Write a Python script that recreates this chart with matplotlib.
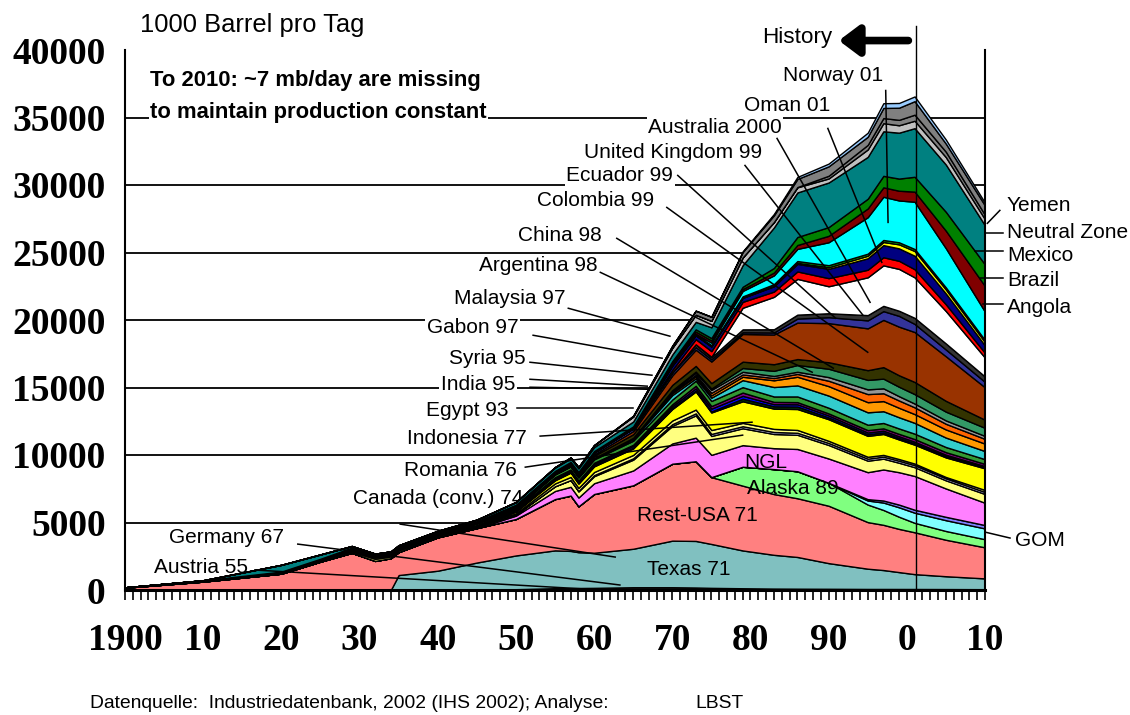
import matplotlib
matplotlib.use("Agg")
import matplotlib.pyplot as plt
import numpy as np

SANS = ['Liberation Sans', 'DejaVu Sans']
SERIF = ['Liberation Serif', 'DejaVu Serif']

# Stuetzjahre der Reihen (1000 Barrel pro Tag)
years = [1900, 1910, 1920, 1925, 1929, 1932, 1934, 1935, 1940, 1945, 1950, 1955, 1957, 1958,
         1960, 1965, 1970, 1973, 1975, 1979, 1983, 1986, 1990, 1995, 1997, 1999, 2001, 2005, 2010]

austria = [0, 0, 0, 0, 0, 0, 0, 0, 10, 20, 35, 70, 65, 60, 50, 55, 55, 50, 40, 35, 25, 22, 20, 18, 18, 16, 15, 15, 15]
germany = [2, 3, 2, 2, 2, 5, 7, 8, 20, 15, 25, 65, 80, 90, 110, 150, 150, 135, 120, 95, 80, 75, 70, 60, 60, 60, 60, 55, 45]
texas = [0, 0, 0, 0, 0, 0, 0, 1100, 1400, 2000, 2500, 2800, 2750, 2650, 2600, 2850, 3450, 3450, 3250, 2800, 2500, 2350, 1900, 1500, 1400, 1250, 1100, 950, 800]
rest_usa = [170, 620, 1210, 2100, 2750, 2150, 2350, 1700, 2470, 2550, 2700, 3800, 4100, 3400, 4350, 4700, 5700, 5900, 4950, 4800, 4500, 4350, 4250, 3450, 3350, 3200, 3100, 2700, 2300]
alaska = [0] * 19 + [1400, 1850, 2000, 1700, 1300, 1100, 900, 700, 650, 600]
gom = [0] * 23 + [300, 550, 700, 750, 800, 800]
usa_other = [0] * 23 + [100, 150, 200, 220, 250, 250]
ngl = [0] * 10 + [250, 600, 650, 650, 800, 1100, 1500, 1750, 1650, 1600, 1550, 1650, 1800, 2000, 2300, 2400, 2500, 2100, 1650]
canada = [2, 2, 1, 1, 3, 3, 4, 4, 20, 20, 80, 350, 500, 450, 520, 800, 1300, 1650, 1400, 1250, 1050, 1050, 1000, 850, 800, 700, 650, 600, 650]
canada_other = [0] * 13 + [30, 80, 100, 130, 150, 150, 150, 150, 150, 150, 150, 150, 150, 150, 150, 150]
romania = [5, 25, 20, 45, 90, 150, 120, 120, 80, 90, 90, 210, 230, 230, 230, 250, 270, 280, 290, 250, 230, 210, 160, 140, 130, 125, 120, 100, 150]
indonesia = [6, 30, 50, 60, 100, 110, 90, 90, 100, 20, 130, 230, 320, 320, 420, 480, 850, 1340, 1300, 1600, 1500, 1550, 1600, 1550, 1550, 1450, 1400, 1450, 1600]
peru = [1, 4, 7, 25, 35, 27, 45, 47, 20, 38, 40, 50, 50, 50, 55, 60, 75, 70, 75, 190, 170, 180, 130, 120, 120, 110, 100, 90, 80]
trinidad = [0, 0, 5, 10, 22, 27, 27, 27, 30, 55, 55, 65, 75, 80, 115, 135, 140, 165, 210, 215, 160, 170, 150, 130, 125, 125, 120, 110, 90]
brunei = [0, 0, 0, 0, 1, 5, 5, 5, 10, 5, 90, 115, 110, 100, 95, 80, 140, 190, 190, 240, 170, 160, 150, 175, 170, 180, 195, 190, 160]
small = [10, 20, 40, 40, 40, 30, 30, 30, 40, 120, 100, 200, 220, 220, 250, 300, 350, 380, 380, 400, 400, 420, 420, 400, 400, 400, 400, 380, 350]
egypt = [0, 0, 3, 3, 5, 5, 5, 4, 10, 27, 45, 35, 50, 60, 65, 125, 330, 170, 240, 520, 700, 820, 900, 920, 870, 830, 800, 700, 600]
india = [1, 5, 5, 5, 5, 5, 5, 5, 6, 5, 5, 7, 8, 8, 10, 60, 140, 150, 170, 250, 500, 640, 700, 750, 750, 700, 650, 600, 550]
syria = [0] * 16 + [85, 110, 190, 170, 165, 210, 400, 600, 580, 540, 500, 420, 350]
gabon = [0] * 13 + [15, 15, 25, 110, 150, 220, 200, 155, 160, 270, 350, 365, 320, 280, 250, 220]
malaysia = [0] * 16 + [20, 90, 100, 280, 380, 500, 620, 700, 720, 700, 700, 650, 600]
argentina = [0, 5, 20, 20, 25, 35, 38, 40, 40, 60, 65, 85, 95, 100, 175, 270, 400, 420, 400, 470, 490, 440, 480, 720, 850, 850, 900, 800, 600]
china = [0] * 10 + [5, 20, 30, 45, 100, 230, 700, 1200, 1600, 2050, 2200, 2700, 2900, 3100, 3500, 3600, 3700, 3300, 2400]
colombia = [0, 0, 1, 3, 55, 45, 48, 48, 40, 60, 95, 105, 120, 125, 150, 200, 220, 190, 160, 125, 150, 300, 440, 590, 650, 800, 600, 500, 400]
ecuador = [0, 0, 1, 2, 5, 5, 5, 5, 6, 7, 7, 8, 8, 8, 8, 8, 4, 210, 160, 215, 240, 290, 290, 390, 390, 380, 450, 450, 400]
uk = [0] * 18 + [30, 1600, 2400, 2650, 2000, 2800, 3000, 3100, 3000, 2400, 1400]
australia = [0] * 15 + [5, 180, 380, 420, 440, 390, 550, 600, 560, 600, 600, 600, 500, 350]
oman = [0] * 16 + [330, 290, 340, 295, 390, 560, 690, 850, 900, 920, 1000, 800, 550]
denmark = [0] * 17 + [10, 20, 10, 40, 80, 120, 190, 230, 300, 350, 300, 250]
other_green = [0] * 14 + [10, 30, 60, 70, 80, 100, 120, 130, 150, 150, 150, 150, 150, 150, 150]
norway = [0] * 17 + [30, 190, 400, 650, 900, 1700, 2700, 3200, 3100, 3500, 2900, 2100]
angola = [0] * 14 + [1, 13, 100, 160, 160, 140, 210, 290, 475, 650, 700, 720, 750, 1300, 1900]
brazil = [0] * 10 + [1, 5, 25, 50, 80, 95, 165, 170, 175, 170, 340, 590, 650, 720, 850, 900, 1100, 1400, 1600]
mexico = [0, 10, 500, 320, 120, 90, 80, 80, 80, 120, 200, 250, 260, 270, 300, 360, 490, 550, 800, 1600, 3000, 3300, 3300, 3100, 3300, 3400, 3600, 3500, 2900]
neutral_zone = [0] * 11 + [30, 70, 90, 140, 370, 500, 530, 480, 570, 400, 380, 300, 550, 600, 550, 550, 550, 450]
yemen = [0] * 21 + [20, 200, 340, 380, 400, 450, 400, 320]
other_grey = [0] * 15 + [50, 150, 300, 300, 400, 500, 600, 700, 600, 750, 900, 1000, 600, 700]
other_blue = [0] * 19 + [50, 100, 150, 200, 300, 350, 350, 350, 300, 200]

series = [austria, germany, texas, rest_usa, alaska, gom, usa_other, ngl, canada, canada_other,
          romania, indonesia, peru, trinidad, brunei, small, egypt, india, syria, gabon, malaysia,
          argentina, china, colombia, ecuador, uk, australia, oman, denmark, other_green, norway,
          angola, brazil, mexico, neutral_zone, yemen, other_grey, other_blue]
colors = ['#000080', '#202020', '#80C0C0', '#FF8080', '#80FF80', '#80FFFF', '#8080FF', '#FF80FF',
          '#FFFF80', '#CCCCFF', '#FFFF80', '#FFFF00', '#003300', '#0000FF', '#800080', '#339933',
          '#33CCCC', '#FF9900', '#FF6600', '#969696', '#339966', '#333300', '#993300', '#333399',
          '#333333', '#FFFFFF', '#FF0000', '#000080', '#FFFF00', '#00CC00', '#00FFFF', '#800000',
          '#008000', '#008080', '#C0C0C0', '#808080', '#808080', '#99CCFF']

# Beschriftungen mit Fuehrungslinie: Text, x, y, Ausrichtung, Linie von (x0, y0) nach (x1, y1)
labels = [
    ('Norway 01', 1997.0, 38100, 'right', 1997.3, 37000, 1997.6, 27230),
    ('Oman 01', 1990.2, 35900, 'right', 1989.9, 34190, 1996.8, 24270),
    ('Australia 2000', 1984.0, 34260, 'right', 1983.4, 33450, 1995.3, 21310),
    ('United Kingdom 99', 1981.5, 32410, 'right', 1979.3, 31450, 1994.4, 20350),
    ('Ecuador 99', 1970.1, 30710, 'right', 1970.7, 30710, 1990.9, 20130),
    ('Colombia 99', 1967.7, 28860, 'right', 1969.3, 28340, 1995.0, 17610),
    ('China 98', 1961.0, 26270, 'right', 1962.9, 26050, 1990.6, 16430),
    ('Argentina 98', 1960.4, 24050, 'right', 1960.8, 23530, 1987.9, 16130),
    ('Malaysia 97', 1956.3, 21610, 'right', 1956.7, 20870, 1969.7, 18800),
    ('Gabon 97', 1950.3, 19460, 'right', 1952.2, 18870, 1968.7, 17170),
    ('Syria 95', 1951.2, 17170, 'right', 1951.8, 16870, 1967.4, 15910),
    ('India 95', 1949.9, 15240, 'right', 1951.8, 15610, 1966.8, 15100),
    ('Egypt 93', 1949.0, 13320, 'right', 1950.1, 13470, 1965.0, 13470),
    ('Indonesia 77', 1951.4, 11250, 'right', 1953.1, 11400, 1980.2, 12430),
    ('Romania 76', 1950.1, 8880, 'right', 1951.2, 9100, 1979.0, 11470),
    ('Canada (conv.) 74', 1929.2, 6810, 'left', 1935.2, 4880, 1962.7, 2440),
    ('Germany 67', 1920.3, 3920, 'right', 1922.1, 3400, 1963.3, 370),
    ('Austria 55', 1915.7, 1630, 'right', 1916.6, 1480, 1958.8, 74),
]
extra_lines = [(1951.8, 15020, 1966.8, 14870)]

right_labels = [
    ('Yemen', 28490, 2011.9, 28120, 2010.3, 27160),
    ('Neutral Zone', 26490, 2010.0, 26420, 2012.3, 26420),
    ('Mexico', 24790, 2008.7, 25090, 2012.3, 25090),
    ('Brazil', 22940, 2009.4, 23090, 2012.3, 23090),
    ('Angola', 20940, 2009.7, 21160, 2012.3, 21160),
]

inner_labels = [('NGL', 1982.0, 9470), ('Alaska 89', 1985.4, 7550),
                ('Rest-USA 71', 1973.2, 5550), ('Texas 71', 1972.1, 1550)]

fig = plt.figure(figsize=(11.3, 7.15), dpi=100)
ax = fig.add_axes([125 / 1130, 1 - 590 / 715, 860 / 1130, 540 / 715])

ax.stackplot(years, *series, colors=colors, edgecolor='black', linewidth=1.0, zorder=2)

ax.set_xlim(1900, 2010)
ax.set_ylim(0, 40000)
ax.set_yticks(range(0, 40001, 5000))
for level in range(5000, 40000, 5000):
    ax.axhline(level, color='black', linewidth=1.3, zorder=0.5)
ax.set_xticks(range(1900, 2011, 10))
ax.set_xticklabels(['1900', '10', '20', '30', '40', '50', '60', '70', '80', '90', '0', '10'])
ax.set_xticks(range(1900, 2011), minor=True)
ax.tick_params(axis='x', which='both', direction='out', length=7, width=1.2, pad=17)
ax.tick_params(axis='y', length=0, pad=14)
for lab in ax.get_xticklabels() + ax.get_yticklabels():
    lab.set_family(SERIF)
    lab.set_fontweight('bold')
    lab.set_fontsize(27)
ax.spines['top'].set_visible(False)
ax.spines['bottom'].set_linewidth(2.2)
ax.spines['left'].set_linewidth(1.5)
ax.spines['right'].set_linewidth(1.5)

fs = 15
box = dict(facecolor='white', edgecolor='none', pad=1.0)
for text, tx, ty, ha, x0, y0, x1, y1 in labels:
    ax.text(tx, ty, text, ha=ha, va='center', fontsize=fs, family=SANS, bbox=box, zorder=1.5)
    ax.plot([x0, x1], [y0, y1], color='black', linewidth=1.1, zorder=4)
for x0, y0, x1, y1 in extra_lines:
    ax.plot([x0, x1], [y0, y1], color='black', linewidth=1.1, zorder=4)

for text, ty, x0, y0, x1, y1 in right_labels:
    ax.text(2012.8, ty, text, ha='left', va='center', fontsize=fs, family=SANS, clip_on=False)
    ax.plot([x0, x1], [y0, y1], color='black', linewidth=1.1, zorder=4, clip_on=False)
ax.text(2013.8, 3630, 'GOM', ha='left', va='center', fontsize=fs, family=SANS, clip_on=False)
ax.plot([2010.0, 2013.2], [4290, 3850], color='black', linewidth=1.1, clip_on=False)

for text, tx, ty in inner_labels:
    ax.text(tx, ty, text, ha='center', va='center', fontsize=fs, family=SANS, zorder=3)

ax.text(1903.2, 37740, 'To 2010: ~7 mb/day are missing', ha='left', va='center',
        fontsize=15.8, fontweight='bold', family=SANS, bbox=box, zorder=1.5)
ax.text(1903.2, 35370, 'to maintain production constant', ha='left', va='center',
        fontsize=15.8, fontweight='bold', family=SANS, bbox=box, zorder=1.5)

# Trennlinie Historie / Prognose
ax.plot([2001.2, 2001.2], [0, 41800], color='black', linewidth=1.0, clip_on=False, zorder=5)
ax.text(1990.4, 40920, 'History', ha='right', va='center', fontsize=16.2, family=SANS)
ax.annotate('', xy=(1991.3, 40700), xytext=(2000.2, 40700), annotation_clip=False,
            arrowprops=dict(arrowstyle='-|>,head_length=0.6,head_width=0.45', lw=5.5,
                            color='black', mutation_scale=20, shrinkA=0, shrinkB=0))

fig.text(140 / 1130, 1 - 25 / 715, '1000 Barrel pro Tag', ha='left', va='center',
         fontsize=18.4, family=SANS)
fig.text(90 / 1130, 1 - 703 / 715, 'Datenquelle:  Industriedatenbank, 2002 (IHS 2002); Analyse:',
         ha='left', va='center', fontsize=13.9, family=SANS)
fig.text(695 / 1130, 1 - 703 / 715, 'LBST', ha='left', va='center', fontsize=13.9, family=SANS)

fig.savefig('out.png', dpi=100)
